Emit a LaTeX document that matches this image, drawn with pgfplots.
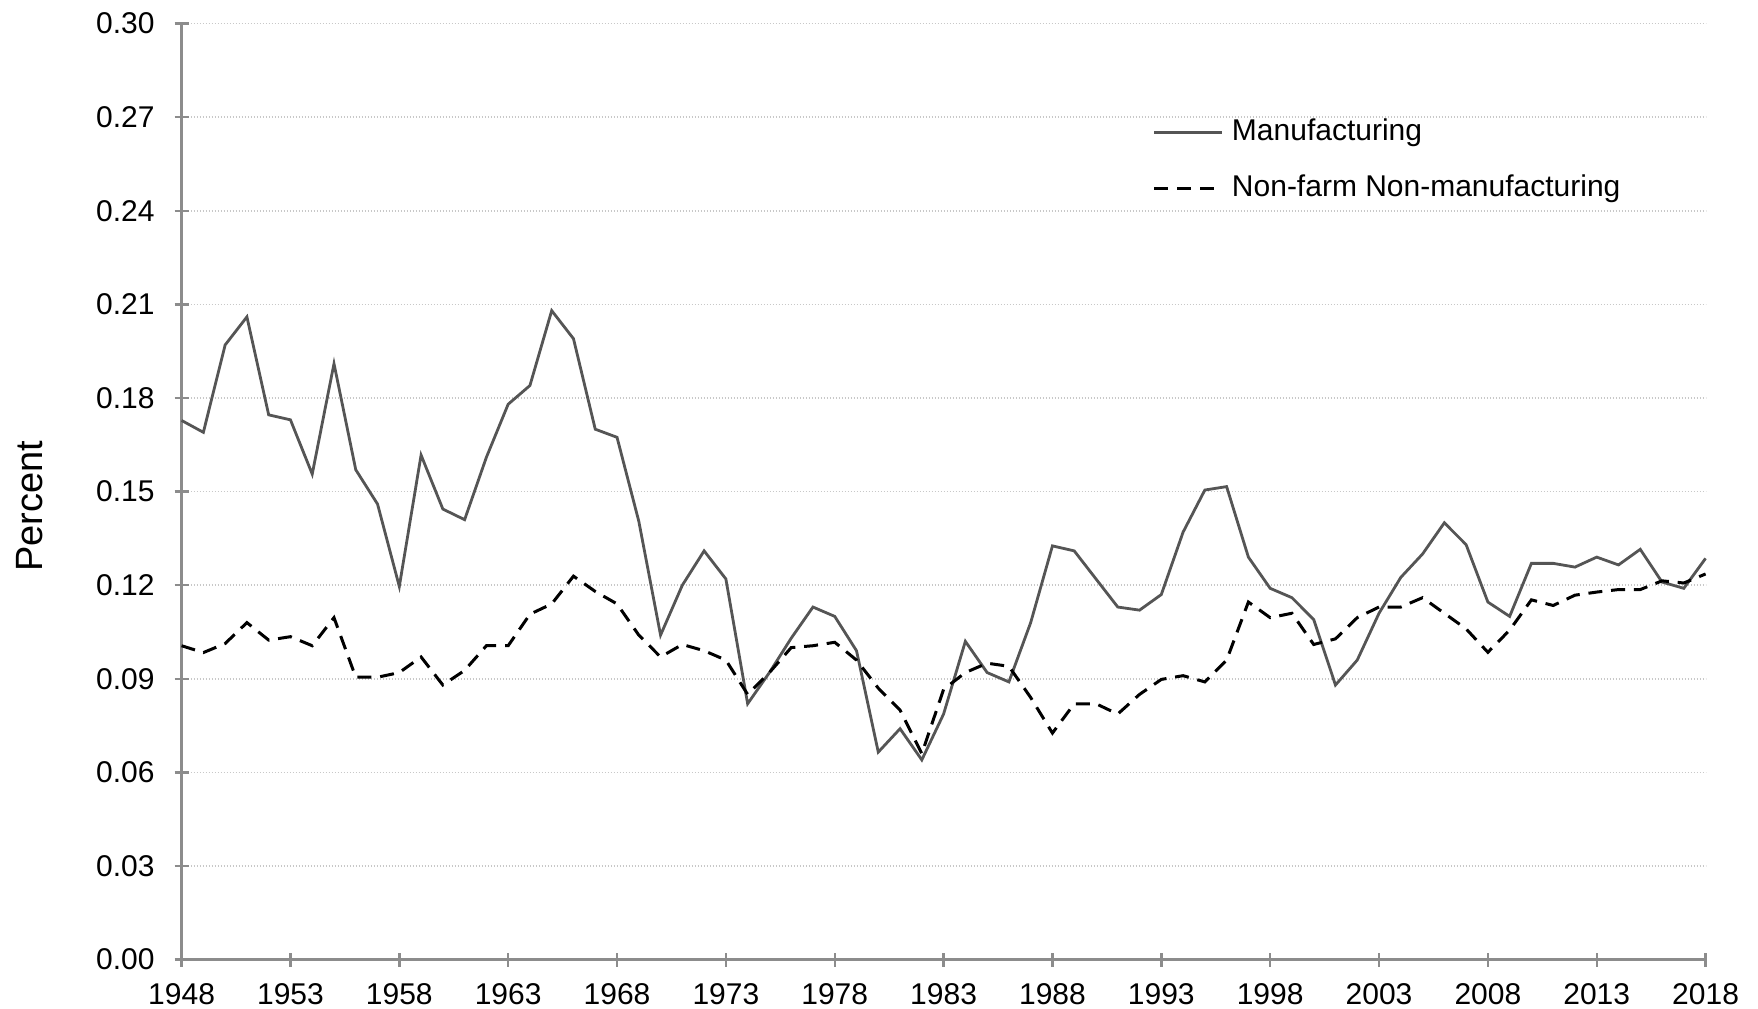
\documentclass[border=0pt]{standalone}
\usepackage{fontspec}
\setmainfont{Liberation Sans}
\usepackage{pgfplots}
\pgfplotsset{compat=1.18}
\definecolor{axgray}{HTML}{8C8C8C}
\definecolor{mfg}{HTML}{555555}
\definecolor{gridc}{HTML}{C8C8C8}
\begin{document}
\begin{tikzpicture}
\begin{axis}[
  at={(0,0)}, anchor=south west,
  scale only axis, width=381pt, height=234pt,
  xmin=1948, xmax=2018, ymin=0, ymax=0.30,
  xtick={1948,1953,...,2018},
  ytick={0,0.03,...,0.31},
  axis lines=left, axis line style={draw=axgray, line width=0.6pt, -},
  tick style={draw=axgray, line width=0.6pt},
  tick align=center, major tick length=3.5pt,
  ymajorgrids, grid style={draw=gridc, line width=0.4pt, dash pattern=on 0.3pt off 0.45pt},
  /pgf/number format/assume math mode=true,
  x tick label style={/pgf/number format/1000 sep={}, font=\fontsize{7.5pt}{9pt}\selectfont, yshift=-0.6pt},
  y tick label style={/pgf/number format/.cd, fixed, fixed zerofill, precision=2, /tikz/.cd, font=\fontsize{7.5pt}{9pt}\selectfont, xshift=-1.5pt},
  ylabel={Percent},
  every axis y label/.style={at={(axis description cs:-0.0995,0.4846)}, rotate=90, anchor=center, font=\fontsize{9.5pt}{11pt}\selectfont},
  legend style={at={(0.629,0.916)}, anchor=north west, draw=none, fill=none, font=\fontsize{7.5pt}{9pt}\selectfont, row sep=3pt},
  legend cell align=left,
  legend image code/.code={\draw[#1] (0pt,0pt) -- (17pt,0pt);},
  clip=false,
]
\addplot[mfg, line width=0.7pt] coordinates {
(1948,0.1728)(1949,0.169)(1950,0.197)(1951,0.206)(1952,0.1746)(1953,0.173)(1954,0.1556)(1955,0.191)(1956,0.157)(1957,0.146)
(1958,0.1196)(1959,0.1617)(1960,0.1444)(1961,0.141)(1962,0.161)(1963,0.178)(1964,0.184)(1965,0.208)(1966,0.199)(1967,0.170)
(1968,0.1674)(1969,0.1405)(1970,0.104)(1971,0.120)(1972,0.131)(1973,0.122)(1974,0.082)(1975,0.092)(1976,0.103)(1977,0.113)
(1978,0.110)(1979,0.099)(1980,0.0665)(1981,0.074)(1982,0.064)(1983,0.0787)(1984,0.102)(1985,0.092)(1986,0.089)(1987,0.108)
(1988,0.1326)(1989,0.131)(1990,0.122)(1991,0.113)(1992,0.112)(1993,0.117)(1994,0.137)(1995,0.1505)(1996,0.1516)(1997,0.129)
(1998,0.119)(1999,0.116)(2000,0.109)(2001,0.088)(2002,0.096)(2003,0.111)(2004,0.1225)(2005,0.130)(2006,0.140)(2007,0.133)
(2008,0.1146)(2009,0.110)(2010,0.127)(2011,0.127)(2012,0.1258)(2013,0.129)(2014,0.1265)(2015,0.1315)(2016,0.121)(2017,0.119)
(2018,0.1286)
};
\addlegendentry{Manufacturing}
\addplot[black, line width=0.75pt, dash pattern=on 3.5pt off 2.2pt] coordinates {
(1948,0.1006)(1949,0.0984)(1950,0.1013)(1951,0.108)(1952,0.1024)(1953,0.1035)(1954,0.1006)(1955,0.1096)(1956,0.0905)(1957,0.0905)
(1958,0.092)(1959,0.097)(1960,0.088)(1961,0.0927)(1962,0.1006)(1963,0.1006)(1964,0.1107)(1965,0.114)(1966,0.1229)(1967,0.118)
(1968,0.114)(1969,0.104)(1970,0.097)(1971,0.101)(1972,0.099)(1973,0.096)(1974,0.085)(1975,0.092)(1976,0.100)(1977,0.1006)
(1978,0.1017)(1979,0.096)(1980,0.087)(1981,0.080)(1982,0.066)(1983,0.0866)(1984,0.092)(1985,0.095)(1986,0.094)(1987,0.084)
(1988,0.0726)(1989,0.082)(1990,0.082)(1991,0.0787)(1992,0.085)(1993,0.0898)(1994,0.091)(1995,0.089)(1996,0.096)(1997,0.1146)
(1998,0.1096)(1999,0.111)(2000,0.101)(2001,0.1028)(2002,0.1096)(2003,0.113)(2004,0.113)(2005,0.116)(2006,0.111)(2007,0.106)
(2008,0.0985)(2009,0.1056)(2010,0.1153)(2011,0.1135)(2012,0.1168)(2013,0.1178)(2014,0.1186)(2015,0.1186)(2016,0.1214)(2017,0.1207)
(2018,0.1236)
};
\addlegendentry{Non-farm Non-manufacturing}
\end{axis}
\pgfresetboundingbox
\path[use as bounding box] (-45.4pt,-12.1pt) rectangle (394.1pt,239.9pt);
\end{tikzpicture}
\end{document}
